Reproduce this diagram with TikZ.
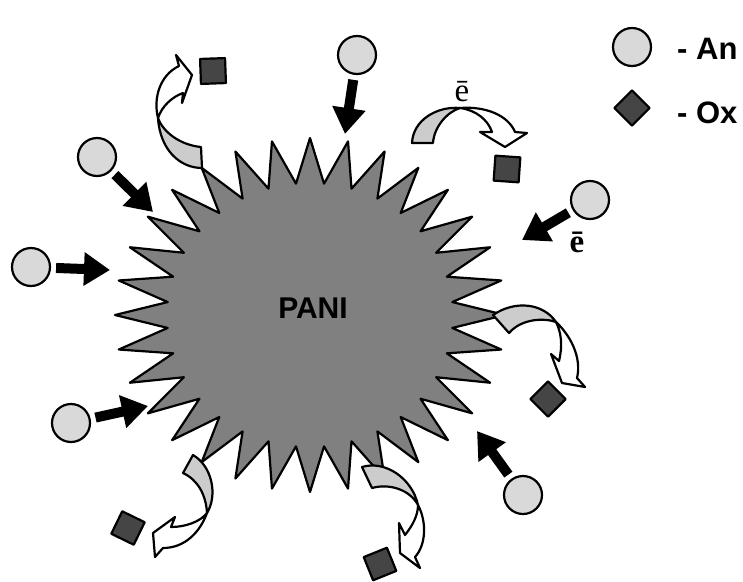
\documentclass[tikz,border=0pt]{standalone}
\usepackage{fontspec}
\setmainfont{Liberation Serif}
\setsansfont{Liberation Sans}
\usetikzlibrary{arrows.meta}
\definecolor{stargray}{gray}{0.5}
\definecolor{anfill}{gray}{0.85}
\definecolor{oxfill}{gray}{0.27}
\definecolor{bandgray}{gray}{0.8}
\begin{document}
\begin{tikzpicture}[x=1pt,y=-1pt,line join=round,
  outl/.style={draw=black,line width=2.2pt},
  an/.style={circle,outl,fill=anfill,minimum size=38pt,inner sep=0pt},
  ox/.style={rectangle,outl,fill=oxfill,minimum size=25pt,inner sep=0pt},
  blk/.style={line width=10pt,draw=black,-{Triangle[length=26pt,width=32pt]},shorten <=5pt},
  band/.style={outl,fill=bandgray},
  front/.style={outl,fill=white},
  lbl/.style={font=\fontsize{31}{31}\selectfont\sffamily\bfseries,anchor=west,inner sep=0pt},
  elec/.style={font=\fontsize{33}{33}\selectfont,inner sep=0pt}]
\useasboundingbox (0,0) rectangle (743,581);
% star
\draw[outl,fill=stargray,shift={(310,315)}] (90:195 and 177)
  \foreach \k in {0,...,31} { -- ({90+\k*11.25+5.625}:143 and 132) -- ({90+(\k+1)*11.25}:195 and 177) } -- cycle;
\node[font=\fontsize{30}{30}\selectfont\sffamily\bfseries] (pani) at (313,308) {PANI};
% anions
\node[an] (an1) at (357,55) {};
\node[an] (an2) at (97,157) {};
\node[an] (an3) at (31,267) {};
\node[an] (an4) at (71,423) {};
\node[an] (an5) at (590,200) {};
\node[an] (an6) at (523,495) {};
\coordinate (t1) at (345,134);
\coordinate (t2) at (153,212);
\coordinate (t3) at (110,270);
\coordinate (t4) at (148,406);
\coordinate (t5) at (522,240);
\coordinate (t6) at (477,431);
\foreach \i in {1,...,6} \draw[blk] (an\i) -- (t\i);
% oxidants
\node[ox,rotate=2] (ox1) at (213,71) {};
\node[ox,rotate=-4] (ox2) at (507,169) {};
\node[ox,rotate=45] (ox3) at (548,399) {};
\node[ox,rotate=-26] (ox4) at (128,528) {};
\node[ox,rotate=22] (ox5) at (380,564) {};
% curved arrows
% A (top right)
\draw[band] (412,143) .. controls (413,120) and (437,106) .. (460,108)
  .. controls (447,112) and (434,127) .. (433,143) -- cycle;
\draw[front] (460,108) .. controls (485,106) and (508,115) .. (515,132)
  -- (527,133) -- (505,147) -- (480,132) -- (492,132)
  .. controls (488,120) and (476,110) .. (460,108) -- cycle;
% B (top left)
\draw[band] (202,168) .. controls (180,168) and (160,150) .. (158,118)
  .. controls (163,132) and (180,145) .. (201,147) -- cycle;
\draw[front] (158,118) .. controls (153,98) and (160,75) .. (179,66)
  -- (176,55) -- (192,75) -- (182,103) -- (183,93)
  .. controls (172,97) and (162,106) .. (158,118) -- cycle;
% C (right)
\draw[band] (493,315) .. controls (515,300) and (543,303) .. (556,322)
  .. controls (545,318) and (522,318) .. (509,333) -- cycle;
\draw[front] (556,322) .. controls (570,335) and (582,357) .. (577,378)
  -- (585,387) -- (562,383) -- (551,354) -- (559,361)
  .. controls (563,345) and (561,332) .. (556,322) -- cycle;
% D (bottom left)
\draw[band] (193,455) .. controls (212,466) and (218,495) .. (207,513)
  .. controls (206,495) and (198,480) .. (183,473) -- cycle;
\draw[front] (207,513) .. controls (200,532) and (185,548) .. (163,548)
  -- (155,557) -- (153,533) -- (175,517) -- (171,527)
  .. controls (185,527) and (200,522) .. (207,513) -- cycle;
% E (bottom center)
\draw[band] (362,467) .. controls (385,460) and (412,478) .. (418,505)
  .. controls (410,490) and (390,483) .. (372,488) -- cycle;
\draw[front] (418,505) .. controls (427,522) and (426,545) .. (415,557)
  -- (420,568) -- (400,553) -- (399,523) -- (405,535)
  .. controls (413,525) and (418,515) .. (418,505) -- cycle;
% electrons
\node[elec] (e1) at (462,92) {\=e};
\node[elec,font=\fontsize{33}{33}\selectfont\bfseries] (e2) at (577,242) {\=e};
% legend
\node[an] (lan) at (632,47) {};
\node[ox,rotate=45] (lox) at (632,108) {};
\node[lbl] (lant) at (677,49) {- An};
\node[lbl] (loxt) at (677,113) {- Ox};
\end{tikzpicture}
\end{document}
